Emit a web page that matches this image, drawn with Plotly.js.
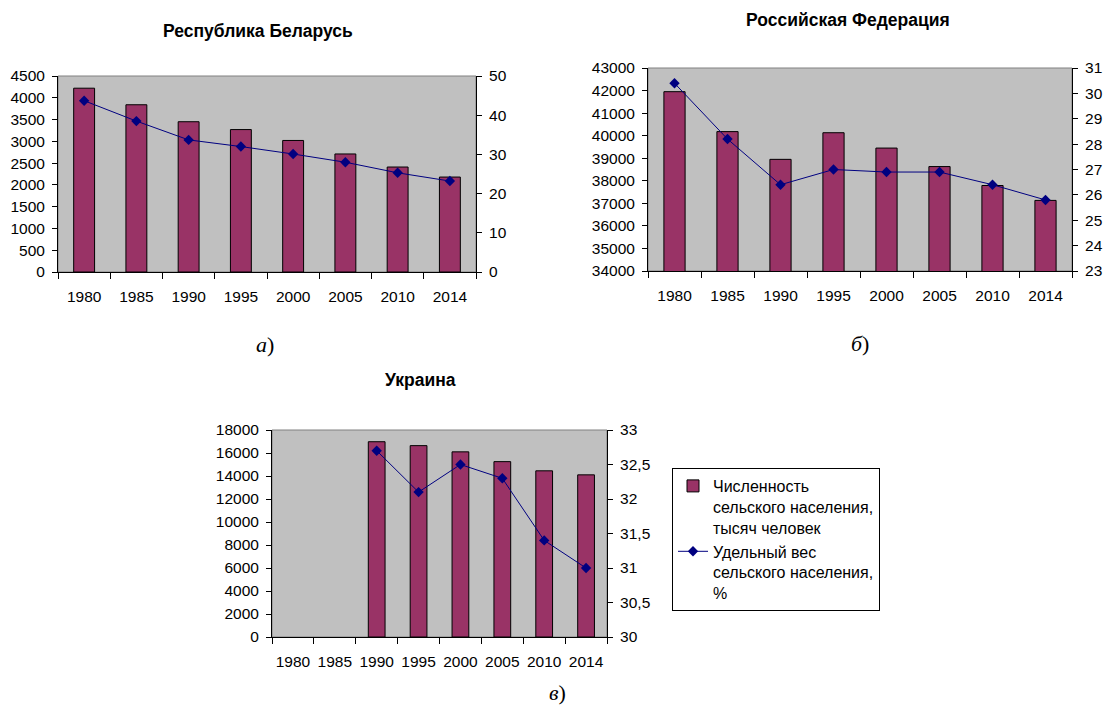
<!DOCTYPE html>
<html>
<head>
<meta charset="utf-8">
<script src="https://cdn.plot.ly/plotly-3.0.1.min.js"></script>
<style>
  html, body { margin: 0; padding: 0; background: #ffffff; }
  #chart { width: 1108px; height: 715px; }
</style>
</head>
<body>
<div id="chart"></div>
<script>
// ---- data ----
const years = ['1980', '1985', '1990', '1995', '2000', '2005', '2010', '2014'];

const belPop   = [4220, 3840, 3450, 3270, 3020, 2710, 2410, 2180];
const belShare = [43.7, 38.5, 33.7, 32.0, 30.1, 28.0, 25.3, 23.2];

const rusPop   = [41950, 40180, 38950, 40130, 39450, 38630, 37790, 37130];
const rusShare = [30.4, 28.2, 26.4, 27.0, 26.9, 26.9, 26.4, 25.8];

const ukrPop   = [null, null, 16980, 16640, 16100, 15250, 14450, 14100];
const ukrShare = [null, null, 32.7, 32.1, 32.5, 32.3, 31.4, 31.0];

const titles   = ['Республика Беларусь', 'Российская Федерация', 'Украина'];
const captions = ['а', 'б', 'в'];
const legendNames = ['Численность<br>сельского населения,<br>тысяч человек',
                     'Удельный вес<br>сельского населения,<br>%'];

// ---- layout helpers ----
const W = 1108, H = 715;
const px = (a, b) => [a / W, b / W];
const py = (top, bottom) => [1 - bottom / H, 1 - top / H];

const FONT = 'Liberation Sans, Arial, sans-serif';
const BAR_COLOR = '#993366';
const LINE_COLOR = '#000080';

function barTrace(y, xa, ya, show) {
  return {
    type: 'bar', x: years, y: y, xaxis: xa, yaxis: ya,
    name: legendNames[0], showlegend: show, legendgroup: 'pop',
    marker: { color: BAR_COLOR, line: { color: '#000000', width: 1 } },
    hoverinfo: 'x+y'
  };
}
function lineTrace(y, xa, ya, show) {
  return {
    type: 'scatter', mode: 'lines+markers', x: years, y: y, xaxis: xa, yaxis: ya,
    name: legendNames[1], showlegend: show, legendgroup: 'share',
    line: { color: LINE_COLOR, width: 1 },
    marker: { symbol: 'diamond', size: 8, color: LINE_COLOR },
    hoverinfo: 'x+y'
  };
}

const data = [
  barTrace(belPop, 'x', 'y', false),
  lineTrace(belShare, 'x', 'y2', false),
  barTrace(rusPop, 'x2', 'y3', false),
  lineTrace(rusShare, 'x2', 'y4', false),
  barTrace(ukrPop, 'x3', 'y5', true),
  lineTrace(ukrShare, 'x3', 'y6', true)
];

const tickFont = { family: FONT, size: 15.5, color: '#000000' };

function xAxis(domain, anchor) {
  return {
    domain: domain, anchor: anchor, type: 'category',
    categoryorder: 'array', categoryarray: years, range: [-0.5, 7.5],
    showline: true, linecolor: '#000000', linewidth: 1,
    ticks: 'outside', tickson: 'boundaries', ticklen: 6, tickcolor: '#000000',
    ticklabelstandoff: 10, tickangle: 0,
    showgrid: false, zeroline: false, tickfont: tickFont, fixedrange: true
  };
}
function yLeft(domain, anchor, range, dtick) {
  return {
    domain: domain, anchor: anchor, range: range, dtick: dtick,
    showline: true, linecolor: '#000000', linewidth: 1,
    ticks: 'outside', ticklen: 5, tickcolor: '#000000', ticklabelstandoff: 4,
    showgrid: false, zeroline: false, tickfont: tickFont,
    exponentformat: 'none', fixedrange: true
  };
}
function yRight(overlay, anchor, range, dtick) {
  return {
    overlaying: overlay, anchor: anchor, side: 'right', range: range, dtick: dtick,
    showline: true, linecolor: '#000000', linewidth: 1,
    ticks: 'outside', ticklen: 5, tickcolor: '#000000', ticklabelstandoff: 4,
    showgrid: false, zeroline: false, tickfont: tickFont,
    exponentformat: 'none', fixedrange: true
  };
}

const dA = { x: px(58, 476), y: py(76, 272) };
const dB = { x: px(648, 1072), y: py(68, 271) };
const dC = { x: px(272, 607), y: py(430, 637) };

function frame(xr, yr) {
  return {
    type: 'rect', xref: xr + ' domain', yref: yr + ' domain',
    x0: 0, x1: 1, y0: 0, y1: 1, layer: 'below',
    fillcolor: '#c0c0c0', line: { color: '#808080', width: 1 }
  };
}

function titleAnn(text, x, y) {
  return {
    xref: 'paper', yref: 'paper', x: x / W, y: 1 - y / H,
    xanchor: 'center', yanchor: 'middle', showarrow: false,
    text: '<b>' + text + '</b>',
    font: { family: FONT, size: 17.5, color: '#000000' }
  };
}
function capAnn(letter, x, y) {
  return {
    xref: 'paper', yref: 'paper', x: x / W, y: 1 - y / H,
    xanchor: 'center', yanchor: 'middle', showarrow: false,
    text: '<i>' + letter + '</i>)',
    font: { family: 'Liberation Serif, Times New Roman, serif', size: 22, color: '#000000' }
  };
}

const layout = {
  width: W, height: H,
  margin: { l: 0, r: 0, t: 0, b: 0, pad: 0 },
  paper_bgcolor: '#ffffff', plot_bgcolor: 'rgba(0,0,0,0)',
  separators: ',',
  bargap: 0.6,
  font: { family: FONT, size: 15, color: '#000000' },
  xaxis: xAxis(dA.x, 'y'),
  yaxis: yLeft(dA.y, 'x', [0, 4500], 500),
  yaxis2: yRight('y', 'x', [0, 50], 10),
  xaxis2: xAxis(dB.x, 'y3'),
  yaxis3: yLeft(dB.y, 'x2', [34000, 43000], 1000),
  yaxis4: yRight('y3', 'x2', [23, 31], 1),
  xaxis3: xAxis(dC.x, 'y5'),
  yaxis5: yLeft(dC.y, 'x3', [0, 18000], 2000),
  yaxis6: yRight('y5', 'x3', [30, 33], 0.5),
  shapes: [frame('x', 'y'), frame('x2', 'y3'), frame('x3', 'y5')],
  annotations: [
    titleAnn(titles[0], 258, 31),
    titleAnn(titles[1], 848, 20),
    titleAnn(titles[2], 420, 380),
    capAnn(captions[0], 265, 344),
    capAnn(captions[1], 860, 343),
    capAnn(captions[2], 557, 692)
  ],
  showlegend: true,
  legend: {
    x: 672 / W, y: 1 - 468 / H, xanchor: 'left', yanchor: 'top',
    bgcolor: '#ffffff', bordercolor: '#000000', borderwidth: 1,
    font: { family: FONT, size: 16, color: '#000000' },
    valign: 'top', entrywidth: 190, entrywidthmode: 'pixels',
    tracegroupgap: 0, traceorder: 'normal'
  }
};

Plotly.newPlot('chart', data, layout, { displayModeBar: false, staticPlot: true });
</script>
</body>
</html>
